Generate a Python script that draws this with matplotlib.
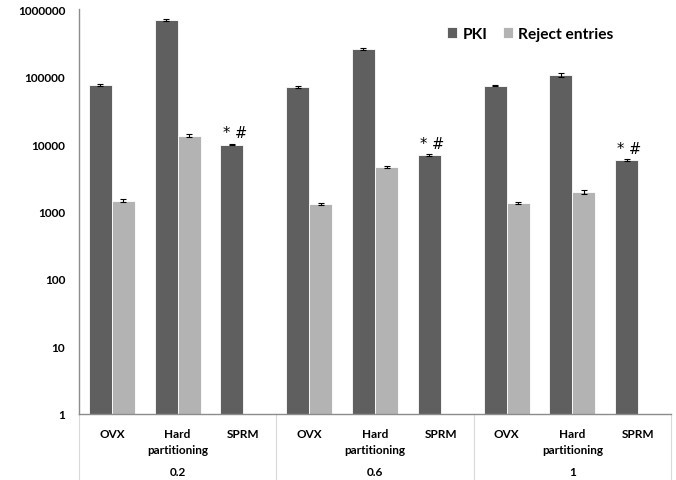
import numpy as np
import matplotlib
matplotlib.use("Agg")
import matplotlib.pyplot as plt
from matplotlib.lines import Line2D

groups = ["0.2", "0.6", "1"]
categories = ["OVX", "Hard\npartitioning", "SPRM"]
pki = [75000, 690000, 9800, 70500, 255000, 6900, 73000, 105000, 5800]
pki_err = [2000, 25000, 200, 2000, 6000, 150, 1000, 8000, 120]
reject = [1450, 13200, np.nan, 1300, 4600, np.nan, 1340, 1950, np.nan]
reject_err = [70, 700, np.nan, 40, 200, np.nan, 40, 150, np.nan]
series_names = ["PKI", "Reject entries"]
annot = "* #"

dark = "#5f5f5f"
light = "#b3b3b3"
font = "Lato"

W, H = 676, 481
fig = plt.figure(figsize=(W / 100, H / 100), dpi=100)
L, R, T, B = 79, 671, 10, 415
ax = fig.add_axes([L / W, 1 - B / H, (R - L) / W, (B - T) / H])

n = len(pki)
x = np.arange(n)
bw = 0.35
ax.bar(x - bw / 2, pki, bw, color=dark, edgecolor="white", linewidth=0.6,
       label=series_names[0], zorder=2)
ax.bar(x + bw / 2, reject, bw, color=light, edgecolor="white", linewidth=0.6,
       label=series_names[1], zorder=2)
ax.errorbar(x - bw / 2, pki, yerr=pki_err, fmt="none", ecolor="black",
            elinewidth=0.8, capsize=2.5, capthick=0.8, zorder=3)
m = ~np.isnan(np.array(reject))
ax.errorbar((x + bw / 2)[m], np.array(reject)[m], yerr=np.array(reject_err)[m],
            fmt="none", ecolor="black", elinewidth=0.8, capsize=2.5,
            capthick=0.8, zorder=3)

for i in range(n):
    if categories[i % 3] == "SPRM":
        ax.annotate(annot, (x[i] - bw / 2, pki[i]), xytext=(2, 3),
                    textcoords="offset points", ha="center", va="bottom",
                    fontsize=10.5, fontfamily="DejaVu Sans")

ax.set_yscale("log")
ax.set_ylim(1, 1e6)
ax.set_xlim(-0.5, n - 0.5)
ax.set_yticks([1, 10, 100, 1000, 10000, 100000, 1000000])
ax.set_yticklabels(["1", "10", "100", "1000", "10000", "100000", "1000000"],
                   fontsize=8.5, fontweight="bold", fontfamily=font)
ax.yaxis.set_minor_locator(matplotlib.ticker.NullLocator())
ax.tick_params(axis="y", length=0, pad=10)
ax.set_xticks([])
for s in ["top", "right"]:
    ax.spines[s].set_visible(False)
ax.spines["left"].set_color("#8c8c8c")
ax.spines["bottom"].set_color("#8c8c8c")
ax.spines["left"].set_linewidth(1.0)
ax.spines["bottom"].set_linewidth(1.0)

# category labels
trans = ax.get_xaxis_transform()
for i in range(n):
    ax.text(x[i], -0.035, categories[i % 3], transform=trans, ha="center",
            va="top", fontsize=8.5, fontweight="bold", fontfamily=font,
            linespacing=1.55)
for g, name in enumerate(groups):
    ax.text(3 * g + 1, -(473 - B) / (B - T), name, transform=trans,
            ha="center", va="center", fontsize=8.5, fontweight="bold",
            fontfamily=font)
# separators
for b in [-0.5, 2.5, 5.5, 8.5]:
    ax.add_line(Line2D([b, b], [0, -(H - B) / (B - T)], transform=trans,
                       color="#d9d9d9", linewidth=0.8, clip_on=False))

leg = ax.legend(loc="center", bbox_to_anchor=(0.762, 0.938), ncol=2,
                frameon=False, handlelength=0.65, handleheight=0.65,
                handletextpad=0.35, columnspacing=1.0,
                prop={"family": font, "weight": "bold", "size": 11.2})

fig.savefig("out.png", dpi=100)
